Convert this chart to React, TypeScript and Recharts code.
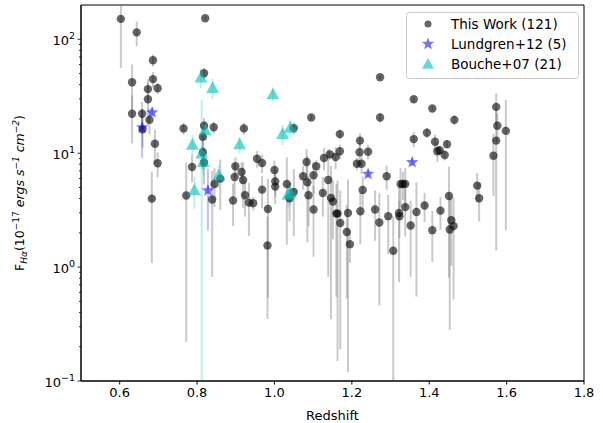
import React from 'react';
import { ScatterChart, Scatter, XAxis, YAxis, ErrorBar, Legend, ReferenceArea } from 'recharts';

// This Work (redshift, Halpha flux in 1e-17 erg/s/cm2, symmetric error)
const workZ = [
  0.603, 0.644, 0.632, 0.632, 0.658, 0.659, 0.673, 0.673, 0.677, 0.686,
  0.686, 0.698, 0.691, 0.698, 0.683, 0.765, 0.772, 0.787, 0.818, 0.821,
  0.818, 0.815, 0.815, 0.818, 0.843, 0.839, 0.845, 0.86, 0.893, 0.899,
  0.897, 0.915, 0.919, 0.921, 0.924, 0.934, 0.945, 0.955, 0.968, 0.968,
  0.983, 0.982, 1.0, 1.002, 1.002, 1.032, 1.039, 1.05, 1.05, 1.074,
  1.083, 1.085, 1.088, 1.095, 1.101, 1.101, 1.108, 1.125, 1.128, 1.139,
  1.143, 1.146, 1.151, 1.158, 1.16, 1.163, 1.169, 1.169, 1.17, 1.187,
  1.19, 1.195, 1.213, 1.221, 1.22, 1.225, 1.222, 1.228, 1.242, 1.26,
  1.271, 1.273, 1.273, 1.29, 1.294, 1.307, 1.322, 1.323, 1.326, 1.332,
  1.338, 1.338, 1.352, 1.36, 1.36, 1.367, 1.388, 1.394, 1.408, 1.408,
  1.415, 1.421, 1.427, 1.429, 1.44, 1.446, 1.451, 1.453, 1.457, 1.463,
  1.465, 1.524, 1.529, 1.566, 1.573, 1.576, 1.573, 1.598,
];
const workF = [
  151, 115, 42, 22.2, 22.2, 16.2, 36.5, 29.8, 19.6, 65.5,
  44.7, 37.2, 12.1, 8.15, 3.99, 16.5, 4.25, 7.57, 50.4, 153,
  17.4, 13.9, 10.2, 8.3, 16.9, 3.92, 5.37, 5.98, 3.84, 7.68,
  6.18, 6.84, 5.82, 16.5, 4.27, 3.68, 3.64, 8.95, 8.2, 4.79,
  3.24, 1.55, 7.12, 5.66, 5.09, 5.37, 4.02, 4.57, 16.6, 6.27,
  8.38, 5.55, 4.27, 20.6, 6.4, 3.2, 7.68, 4.48, 9.08, 5.82,
  9.77, 4.05, 3.76, 9.25, 2.95, 2.95, 10.4, 14.7, 2.44, 2.03,
  2.99, 1.59, 8.09, 12.9, 10.2, 8.09, 3.09, 4.75, 10.3, 3.2,
  2.46, 46.4, 20.6, 6.27, 2.8, 1.39, 2.99, 2.8, 5.37, 5.37,
  5.37, 3.36, 2.32, 29.8, 13.3, 3.05, 3.47, 15.1, 24.7, 2.11,
  12.6, 10.4, 10.6, 3.13, 9.64, 12.0, 4.21, 2.14, 2.58, 2.29,
  19.6, 5.19, 4.02, 9.5, 25.5, 17.4, 12.9, 15.7,
];
const workErr = [
  95, 28, 18, 10, 6, 5, 8, 12, 5, 8,
  7, 4, 4, 2, 2.9, 2, 4.03, 2, 6, 5,
  3, 3, 3, 3, 2, 3.1, 2, 2.8, 1.55, 1.5,
  2, 1.5, 2.5, 2, 1.5, 1.8, 0.5, 1.5, 1.5, 1.5,
  2.7, 1.2, 1.5, 1.5, 1.5, 3.8, 1.5, 2.7, 2, 1.5,
  2.5, 3.9, 2, 1, 2, 1.97, 1, 1.7, 2, 5.0,
  1, 3.7, 2, 2, 2.4, 2.8, 1.5, 1.5, 2.25, 1.5,
  2.87, 0.5, 1, 2, 2, 1.5, 1.5, 1.5, 1.5, 1.5,
  2.0, 2, 2, 1.5, 1.5, 1.39, 2.25, 1, 2, 1.5,
  2, 1.5, 1.5, 2, 2, 2.5, 1, 1.5, 1, 1,
  2, 2, 1, 1, 1, 1, 3.4, 1.86, 1.55, 1.77,
  2, 1.5, 1.5, 5.3, 8, 5, 11.5, 13.6,
];

// Lundgren+12
const lundZ = [0.658, 0.684, 0.828, 1.242, 1.356];
const lundF = [16.8, 22.8, 4.7, 6.58, 8.32];
const lundErr = [7.7, 2, 2.6, 0.5, 0.5];

// Bouche+07
const boucheZ = [0.81, 0.84, 0.788, 0.812, 0.816, 0.821, 0.793, 0.856, 0.91, 0.996, 1.021, 1.041, 1.035, 1.041];
const boucheF = [46.4, 37.5, 11.9, 10.0, 8.4, 16.0, 4.75, 6.4, 12.0, 33, 14.8, 16.8, 4.33, 4.48];
const boucheErr = [9, 7.7, 2.5, 19.5, 2, 3, 1.5, 1.5, 2, 4, 3, 3, 1, 1];

const xTicks = [0.6, 0.8, 1.0, 1.2, 1.4, 1.6, 1.8];
const yDecades = [0.1, 1, 10, 100];
const yMinor = [0.2, 0.3, 0.4, 0.5, 0.6, 0.7, 0.8, 0.9, 2, 3, 4, 5, 6, 7, 8, 9, 20, 30, 40, 50, 60, 70, 80, 90];
const Y_MIN = 0.1;
const Y_MAX = 200;

const FONT = '"DejaVu Sans", sans-serif';
const GRAY = '#000000';
const BLUE = '#0000ff';
const CYAN = '#00c0b8';

// error bars are cut at the plot edges (log axis can't take values <= 0)
function rows(z: number[], f: number[], err: number[]) {
  return z.map((x, i) => ({
    z: x,
    f: f[i],
    err: [Math.min(err[i], f[i] - Y_MIN), Math.min(err[i], Y_MAX - f[i])],
  }));
}

const workData = rows(workZ, workF, workErr);
const lundData = rows(lundZ, lundF, lundErr);
const boucheData = rows(boucheZ, boucheF, boucheErr);

function starPath(cx: number, cy: number, R: number) {
  const r = R * 0.42;
  let d = '';
  for (let i = 0; i < 10; i++) {
    const rad = i % 2 === 0 ? R : r;
    const a = -Math.PI / 2 + (i * Math.PI) / 5;
    d += (i === 0 ? 'M' : 'L') + (cx + rad * Math.cos(a)).toFixed(2) + ',' + (cy + rad * Math.sin(a)).toFixed(2);
  }
  return d + 'Z';
}

function triPath(cx: number, cy: number, s: number) {
  return `M${cx},${cy - s}L${cx - s},${cy + s * 0.8}L${cx + s},${cy + s * 0.8}Z`;
}

const Dot = (p: any) => <circle cx={p.cx} cy={p.cy} r={4.2} fill={GRAY} fillOpacity={0.6} />;
const Star = (p: any) => <path d={starPath(p.cx, p.cy, 6.5)} fill={BLUE} fillOpacity={0.55} />;
const Tri = (p: any) => <path d={triPath(p.cx, p.cy, 6.5)} fill={CYAN} fillOpacity={0.6} />;

const YTick = (props: any) => {
  const { x, y, payload } = props;
  const v = payload.value;
  const lg = Math.log10(v);
  const exp = Math.round(lg);
  const major = Math.abs(lg - exp) < 1e-6;
  return (
    <g>
      <line x1={x - (major ? 3.5 : 2)} x2={x} y1={y} y2={y} stroke="#000" strokeWidth={0.8} />
      {major && (
        <text x={x - 6} y={y + 6} textAnchor="end" fontSize={13} fontFamily={FONT} fill="#000">
          10<tspan dy={-6} fontSize={9.5}>{exp < 0 ? '\u2212' + -exp : String(exp)}</tspan>
        </text>
      )}
    </g>
  );
};

const YLabel = () => (
  <text transform="translate(24,193) rotate(-90)" textAnchor="middle" fontSize={12.5} fontFamily={FONT} fill="#000">
    F<tspan fontSize={9} fontStyle="italic" dy={3}>Hα</tspan>
    <tspan dy={-3}>(10</tspan>
    <tspan fontSize={9} dy={-5}>{'\u221217'}</tspan>
    <tspan dy={5} fontStyle="italic"> ergs s</tspan>
    <tspan fontSize={9} dy={-5} fontStyle="italic">{'\u22121'}</tspan>
    <tspan dy={5} fontStyle="italic"> cm</tspan>
    <tspan fontSize={9} dy={-5} fontStyle="italic">{'\u22122'}</tspan>
    <tspan dy={5}>)</tspan>
  </text>
);

const LegendBox = () => (
  <svg width={173} height={67} style={{ display: 'block' }}>
    <rect x={0.5} y={0.5} width={172} height={66} rx={3} fill="#fff" fillOpacity={0.8} stroke="#cccccc" />
    <circle cx={22} cy={12} r={3.5} fill={GRAY} fillOpacity={0.6} />
    <path d={starPath(22, 32, 6.5)} fill={BLUE} fillOpacity={0.55} />
    <path d={triPath(22, 52, 6)} fill={CYAN} fillOpacity={0.6} />
    <g fontFamily={FONT} fontSize={13.5} fill="#000">
      <text x={45} y={17}>This Work (121)</text>
      <text x={45} y={37}>Lundgren+12 (5)</text>
      <text x={45} y={57}>Bouche+07 (21)</text>
    </g>
  </svg>
);

export default function App() {
  return (
    <div style={{ position: 'absolute', left: 0, top: 0, width: 603, height: 423, background: '#fff' }}>
      <ScatterChart width={603} height={423} margin={{ top: 5, right: 19, bottom: 0, left: 0 }}>
        <XAxis
          type="number"
          dataKey="z"
          domain={[0.5, 1.8]}
          allowDataOverflow
          ticks={xTicks}
          interval={0}
          tickFormatter={(v: number) => v.toFixed(1)}
          height={42}
          tickSize={3.5}
          tickMargin={3}
          stroke="#000"
          tick={{ fontSize: 13, fill: '#000', fontFamily: FONT }}
          label={{ value: 'Redshift', position: 'insideBottom', offset: 3, fontSize: 13, fill: '#000', fontFamily: FONT }}
        />
        <YAxis
          type="number"
          dataKey="f"
          scale="log"
          domain={[Y_MIN, Y_MAX]}
          allowDataOverflow
          ticks={[...yDecades, ...yMinor]}
          interval={0}
          width={81}
          tickSize={0}
          tickMargin={0}
          tickLine={false}
          stroke="#000"
          tick={<YTick />}
          label={<YLabel />}
        />
        <ReferenceArea x1={0.5} x2={1.8} y1={Y_MIN} y2={Y_MAX} fill="none" stroke="#000" strokeWidth={1} ifOverflow="visible" />
        <Scatter name="This Work (121)" data={workData} shape={Dot} isAnimationActive={false}>
          <ErrorBar dataKey="err" direction="y" width={0} stroke="#777777" strokeOpacity={0.4} strokeWidth={2} />
        </Scatter>
        <Scatter name="Lundgren+12 (5)" data={lundData} shape={Star} isAnimationActive={false}>
          <ErrorBar dataKey="err" direction="y" width={0} stroke={BLUE} strokeOpacity={0.25} strokeWidth={2} />
        </Scatter>
        <Scatter name="Bouche+07 (21)" data={boucheData} shape={Tri} isAnimationActive={false}>
          <ErrorBar dataKey="err" direction="y" width={0} stroke={CYAN} strokeOpacity={0.25} strokeWidth={2} />
        </Scatter>
        <Legend
          layout="horizontal"
          verticalAlign="middle"
          align="center"
          content={() => <LegendBox />}
          wrapperStyle={{ left: 406, top: 12, width: 173, height: 67 }}
        />
      </ScatterChart>
    </div>
  );
}
